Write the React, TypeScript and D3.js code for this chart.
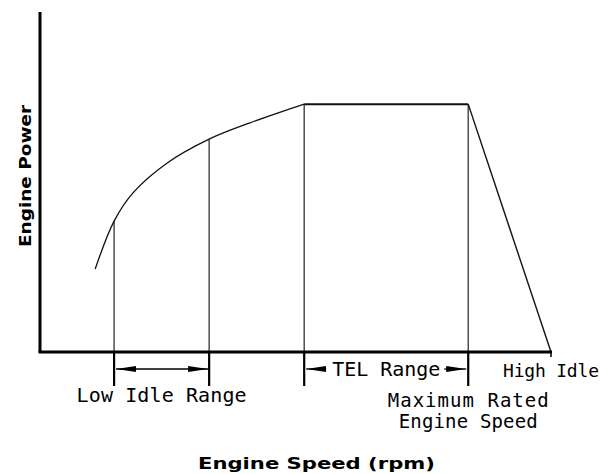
import React, { useEffect, useRef } from "react";
import * as d3 from "d3";

// engine speed / power in arbitrary percent units
const curveSpeed = [10.8, 14.5, 18.2, 24.9, 33.1, 41.1, 51.7];
const curvePower = [24.4, 38.5, 46.8, 55.6, 62.6, 67.4, 72.9];
const plateauSpeed = [51.7, 83.8];
const plateauPower = [72.9, 72.9];
const droopSpeed = [83.8, 100];
const droopPower = [72.9, 0];
const markerSpeed = [14.5, 33.1, 51.7, 83.8];
const markerPower = [38.5, 62.6, 72.9, 72.9];
const rangeLabels = ["Low Idle Range", "TEL Range"];
const rangeBounds = [[14.5, 33.1], [51.7, 83.8]];
const highIdleLabel = "High Idle";
const ratedLabel = ["Maximum Rated", "Engine Speed"];
const xTitle = "Engine Speed (rpm)";
const yTitle = "Engine Power";

export default function App() {
    const ref = useRef<SVGSVGElement | null>(null);

    useEffect(() => {
        const width = 602;
        const height = 474;
        const x = d3.scaleLinear().domain([0, 100]).range([40, 551]);
        const y = d3.scaleLinear().domain([0, 100]).range([352, 12]);
        const mono = "'DejaVu Sans Mono', 'Liberation Mono', monospace";

        const svg = d3.select(ref.current);
        svg.selectAll("*").remove();
        svg.attr("width", width).attr("height", height);

        const defs = svg.append("defs");
        defs.append("marker")
            .attr("id", "head")
            .attr("viewBox", "0 0 20 7")
            .attr("refX", 20)
            .attr("refY", 3.5)
            .attr("markerWidth", 20)
            .attr("markerHeight", 7)
            .attr("markerUnits", "userSpaceOnUse")
            .attr("orient", "auto-start-reverse")
            .append("path")
            .attr("d", "M0,0.5 L20,3.5 L0,6.5 Z")
            .attr("fill", "#000");

        // marker verticals above the axis (thin)
        svg.selectAll("line.up")
            .data(markerSpeed)
            .enter()
            .append("line")
            .attr("x1", d => x(d))
            .attr("x2", d => x(d))
            .attr("y1", (d, i) => y(markerPower[i]))
            .attr("y2", y(0))
            .attr("stroke", "#333")
            .attr("stroke-width", 1.3);

        // extensions below the axis (thick)
        svg.selectAll("line.down")
            .data(markerSpeed)
            .enter()
            .append("line")
            .attr("x1", d => x(d))
            .attr("x2", d => x(d))
            .attr("y1", y(0))
            .attr("y2", y(0) + 34)
            .attr("stroke", "#000")
            .attr("stroke-width", 2.2);

        svg.append("line")
            .attr("x1", x(100)).attr("x2", x(100))
            .attr("y1", y(0)).attr("y2", y(0) + 5)
            .attr("stroke", "#000").attr("stroke-width", 1.5);

        const line = d3.line<number>()
            .x((d, i) => x(curveSpeed[i]))
            .y(d => y(d))
            .curve(d3.curveCatmullRom);

        svg.append("path")
            .attr("d", line(curvePower))
            .attr("fill", "none")
            .attr("stroke", "#111")
            .attr("stroke-width", 1.3);

        const straight = d3.line<number[]>()
            .x(d => x(d[0]))
            .y(d => y(d[1]));

        svg.append("path")
            .attr("d", straight(plateauSpeed.map((s, i) => [s, plateauPower[i]])))
            .attr("fill", "none")
            .attr("stroke", "#111")
            .attr("stroke-width", 2);

        svg.append("path")
            .attr("d", straight(droopSpeed.map((s, i) => [s, droopPower[i]])))
            .attr("fill", "none")
            .attr("stroke", "#111")
            .attr("stroke-width", 1.4);

        // axes
        svg.append("line")
            .attr("x1", x(0)).attr("x2", x(0))
            .attr("y1", y(100)).attr("y2", y(0))
            .attr("stroke", "#000").attr("stroke-width", 3);
        svg.append("line")
            .attr("x1", x(0) - 1.5).attr("x2", x(100) + 1)
            .attr("y1", y(0)).attr("y2", y(0))
            .attr("stroke", "#000").attr("stroke-width", 3);

        // low idle range dimension arrow
        const [lo0, lo1] = rangeBounds[0];
        svg.append("line")
            .attr("x1", x(lo0) + 2).attr("x2", x(lo1) - 1)
            .attr("y1", y(0) + 17).attr("y2", y(0) + 17)
            .attr("stroke", "#000").attr("stroke-width", 1.3)
            .attr("marker-start", "url(#head)")
            .attr("marker-end", "url(#head)");
        svg.append("text")
            .attr("x", (x(lo0) + x(lo1)) / 2)
            .attr("y", y(0) + 50)
            .attr("text-anchor", "middle")
            .attr("font-family", mono)
            .attr("font-size", 20)
            .attr("textLength", 170)
            .attr("lengthAdjust", "spacing")
            .text(rangeLabels[0]);

        // TEL range: arrows on each side of the text
        const [t0, t1] = rangeBounds[1];
        svg.append("line")
            .attr("x1", x(t0) + 22).attr("x2", x(t0) + 2)
            .attr("y1", y(0) + 17).attr("y2", y(0) + 17)
            .attr("stroke", "#000").attr("stroke-width", 1.3)
            .attr("marker-end", "url(#head)");
        svg.append("line")
            .attr("x1", x(t1) - 24).attr("x2", x(t1) - 2)
            .attr("y1", y(0) + 17).attr("y2", y(0) + 17)
            .attr("stroke", "#000").attr("stroke-width", 1.3)
            .attr("marker-end", "url(#head)");
        svg.append("text")
            .attr("x", (x(t0) + x(t1)) / 2)
            .attr("y", y(0) + 24)
            .attr("text-anchor", "middle")
            .attr("font-family", mono)
            .attr("font-size", 20)
            .attr("textLength", 108)
            .attr("lengthAdjust", "spacing")
            .text(rangeLabels[1]);

        svg.append("text")
            .attr("x", x(100))
            .attr("y", y(0) + 25)
            .attr("text-anchor", "middle")
            .attr("font-family", mono)
            .attr("font-size", 18)
            .attr("textLength", 96)
            .attr("lengthAdjust", "spacing")
            .text(highIdleLabel);

        svg.selectAll("text.rated")
            .data(ratedLabel)
            .enter()
            .append("text")
            .attr("x", x(markerSpeed[3]))
            .attr("y", (d, i) => y(0) + 55 + i * 21)
            .attr("text-anchor", "middle")
            .attr("font-family", mono)
            .attr("font-size", 19)
            .attr("textLength", (d, i) => (i === 0 ? 161 : 139))
            .attr("lengthAdjust", "spacing")
            .text(d => d);

        // axis titles
        svg.append("text")
            .attr("x", 198)
            .attr("y", 469)
            .attr("font-family", "'DejaVu Sans', sans-serif")
            .attr("font-weight", "bold")
            .attr("font-size", 15.5)
            .attr("textLength", 237)
            .attr("lengthAdjust", "spacingAndGlyphs")
            .text(xTitle);

        svg.append("text")
            .attr("transform", "translate(31,247) rotate(-90)")
            .attr("font-family", "'DejaVu Sans', sans-serif")
            .attr("font-weight", "bold")
            .attr("font-size", 15.5)
            .attr("textLength", 142)
            .attr("lengthAdjust", "spacingAndGlyphs")
            .text(yTitle);
    }, []);

    return (
        <svg
            ref={ref}
            style={{ position: "absolute", left: 0, top: 0, background: "#fff" }}
        />
    );
}
